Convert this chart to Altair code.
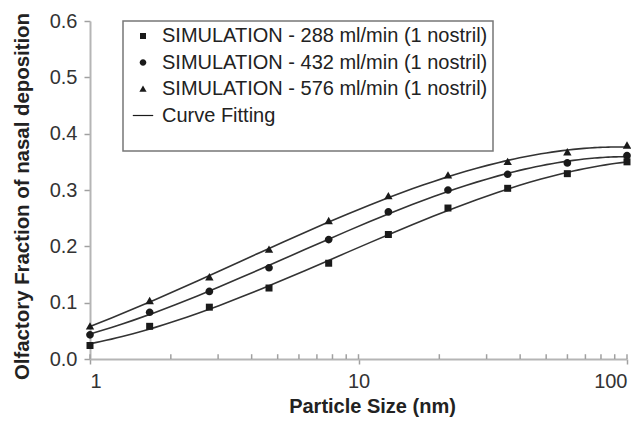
import altair as alt
import pandas as pd

# Particle sizes (nm) of the simulation points
sizes = [1.0, 1.668, 2.783, 4.642, 7.743, 12.92, 21.54, 35.94, 59.95, 100.0]

series_names = [
    "SIMULATION - 288 ml/min (1 nostril)",
    "SIMULATION - 432 ml/min (1 nostril)",
    "SIMULATION - 576 ml/min (1 nostril)",
]
fit_name = "Curve Fitting"

sim_288 = [0.024, 0.058, 0.092, 0.126, 0.170, 0.221, 0.268, 0.303, 0.329, 0.350]
sim_432 = [0.043, 0.083, 0.120, 0.162, 0.212, 0.261, 0.300, 0.328, 0.348, 0.361]
sim_576 = [0.058, 0.103, 0.145, 0.194, 0.245, 0.289, 0.326, 0.350, 0.367, 0.379]

x_major = [1, 10, 100]
x_minor_all = [1, 2, 3, 4, 5, 6, 7, 8, 9, 10, 20, 30, 40, 50, 60, 70, 80, 90, 100]
y_ticks = [0.0, 0.1, 0.2, 0.3, 0.4, 0.5, 0.6]

rows = []
for name, vals in zip(series_names, [sim_288, sim_432, sim_576]):
    for s, v in zip(sizes, vals):
        rows.append({"size": s, "frac": v, "series": name})
df = pd.DataFrame(rows)
ticks_df = pd.DataFrame({"t": x_minor_all})

shape_paths = [
    "M-0.5,-0.5H0.5V0.5H-0.5Z",
    "M-0.55,0A0.55,0.55,0,1,0,0.55,0A0.55,0.55,0,1,0,-0.55,0Z",
    "M0,-0.6L0.6,0.45L-0.6,0.45Z",
    "M-1.7,-0.1H1.7V0.1H-1.7Z",
]

FONT = "Liberation Sans"
xscale = alt.Scale(type="log", domain=[1, 100], nice=False)
yscale = alt.Scale(domain=[0, 0.6], nice=False)

xaxis = alt.Axis(
    values=x_major, format="d", tickSize=5, labelPadding=7, labelFontSize=20,
    labelColor="#333", labelFont=FONT, domainColor="#b5b5b5", domainWidth=2,
    tickColor="#a0a0a0", tickWidth=1.5, grid=False,
    title="Particle Size (nm)", titleFont=FONT, titleFontSize=20,
    titleFontWeight="bold", titleColor="#222", titleX=282, titleY=53,
    titleBaseline="alphabetic",
)
yaxis = alt.Axis(
    values=y_ticks, format=".1f", tickSize=6, labelPadding=7, labelFontSize=20,
    labelColor="#333", labelFont=FONT, domainColor="#b5b5b5", domainWidth=2,
    tickColor="#a0a0a0", tickWidth=1.5, grid=False,
    title="Olfactory Fraction of nasal deposition", titleFont=FONT,
    titleFontSize=20.4, titleFontWeight="bold", titleColor="#222",
    titleX=-62, titleY=175, titleBaseline="alphabetic",
)

points = alt.Chart(df).mark_point(filled=True, size=196, opacity=1, color="#1a1a1a").encode(
    x=alt.X("size:Q", scale=xscale, axis=xaxis),
    y=alt.Y("frac:Q", scale=yscale, axis=yaxis),
    shape=alt.Shape(
        "series:N",
        scale=alt.Scale(domain=series_names + [fit_name], range=shape_paths),
        legend=alt.Legend(
            title=" ", titleOrient="bottom", titleFontSize=18, titlePadding=2,
            orient="none", legendX=33, legendY=0, padding=5,
            symbolSize=144, symbolFillColor="#1a1a1a", symbolStrokeWidth=0,
            symbolOffset=5, labelOffset=9, labelFont=FONT, labelFontSize=20,
            labelColor="#222", labelLimit=0, rowPadding=6.5,
            fillColor="white", strokeColor="#777",
        ),
    ),
)

fit = (
    alt.Chart(df)
    .transform_calculate(lx="log(datum.size)/LN10")
    .transform_regression("lx", "frac", method="poly", order=3, groupby=["series"])
    .transform_calculate(size="pow(10, datum.lx)")
    .mark_line(color="#333", strokeWidth=1.6)
    .encode(
        x=alt.X("size:Q", scale=xscale),
        y=alt.Y("frac:Q", scale=yscale),
        detail="series:N",
    )
)

inner_ticks = alt.Chart(ticks_df).mark_rule(color="#a0a0a0", strokeWidth=1.5).encode(
    x=alt.X("t:Q", scale=xscale),
    y=alt.datum(0),
    y2=alt.datum(0.0085),
)

chart = (
    alt.layer(inner_ticks, fit, points)
    .properties(
        width=537, height=338,
        autosize=alt.AutoSizeParams(type="none"),
        padding={"left": 82, "top": 13, "right": 4, "bottom": 58},
        background="white",
    )
    .configure_view(stroke=None)
    .configure_legend(strokeWidth=1.5)
)

chart.save("out.html", embed_options={"renderer": "svg", "actions": False})
